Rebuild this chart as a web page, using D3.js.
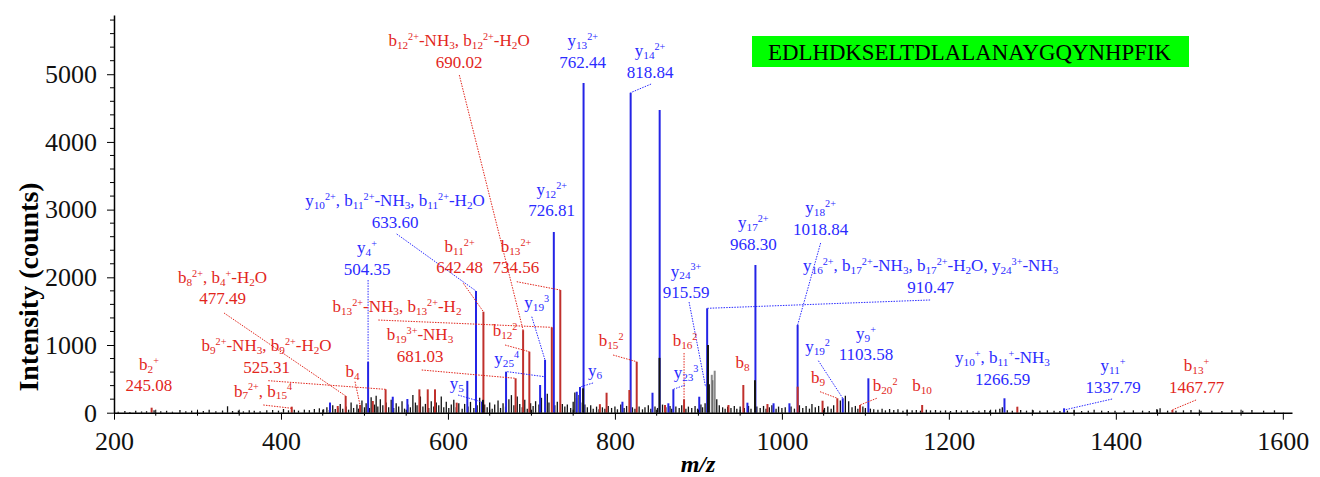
<!DOCTYPE html>
<html>
<head>
<meta charset="utf-8">
<script src="https://cdn.jsdelivr.net/npm/d3@7"></script>
<style>
body { margin: 0; background: #fff; }
svg { display: block; }
text { font-family: "Liberation Serif", "Times New Roman", serif; }
</style>
</head>
<body>
<div id="spectrum"></div>
<script>
// axis ticks
var xTicks = [200, 400, 600, 800, 1000, 1200, 1400, 1600];
var yTicks = [0, 1000, 2000, 3000, 4000, 5000];
var peptide = "EDLHDKSELTDLALANAYGQYNHPFIK";

// unannotated raw peaks [m/z, intensity]
var blackPeaks = [
  [205,15],[213,25],[219,12],[226,30],[233,18],[239,22],[248,35],[256,20],[263,28],[270,15],[279,40],[286,22],
  [293,30],[300,18],[307,25],[314,45],[322,20],[330,32],[336,95],[342,25],[349,30],[355,20],[362,38],[368,28],
  [375,22],[383,35],[390,40],[397,30],[403,55],[409,35],[416,42],[421,30],[428,45],[434,38],[440,55],[446,65],[451,50],
  [455,80],[458,40],[462,110],[465,55],[468,70],[471,130],[474,60],[478,90],[481,45],[484,150],[487,70],[491,120],
  [493,60],[497,180],[500,80],[502,140],[506,70],[508,230],[512,120],[514,250],[516,90],[519,200],[522,110],[526,150],
  [529,80],[532,190],[535,70],[538,140],[541,90],[545,170],[548,60],[552,120],[555,80],[558,260],[561,150],[563,110],
  [567,240],[570,90],[573,130],[577,70],[580,170],[583,90],[586,150],[589,110],[592,240],[595,80],[598,160],[601,70],
  [604,120],[607,190],[610,80],[613,140],[617,60],[620,130],[624,90],[627,160],[631,70],[635,110],[638,220],[644,120],
  [647,80],[650,150],[653,60],[656,120],[660,180],[663,70],[666,140],[669,90],[673,200],[676,260],[679,110],[683,240],
  [686,130],[689,80],[692,190],[695,60],[699,140],[702,100],[705,170],[709,120],[712,220],[719,280],[721,150],[728,110],
  [731,160],[737,130],[740,90],[743,120],[747,70],[750,160],[752,300],[754,220],[757,260],[759,150],[764,120],[767,80],
  [771,110],[774,60],[778,90],[781,50],[785,80],[788,60],[792,100],[796,70],[800,90],[803,50],[807,120],[811,70],
  [814,100],[821,80],[824,60],[829,90],[833,50],[836,80],[840,110],[843,60],[848,90],[851,70],[857,120],[861,80],
  [866,100],[868,60],[873,90],[877,70],[880,110],[885,60],[888,90],[892,70],[896,100],[899,60],[903,120],[905,80],
  [908,140],[913,420],[917,480],[922,200],[925,110],[929,80],[932,60],[935,90],[939,70],[943,100],[946,60],[950,90],
  [955,70],[960,100],[963,60],[970,90],[974,70],[978,100],[981,60],[985,80],[988,110],[993,60],[996,90],[1000,70],
  [1004,80],[1011,90],[1015,60],[1021,110],[1025,70],[1029,100],[1033,60],[1036,130],[1040,80],[1044,100],[1051,70],
  [1055,90],[1059,60],[1062,110],[1070,180],[1076,250],[1080,170],[1084,80],[1088,100],[1091,60],[1097,90],[1100,70],
  [1106,60],[1110,50],
  [1115,45],[1120,60],[1124,35],[1129,55],[1134,40],[1139,50],[1145,30],[1150,45],[1156,35],[1161,40],[1166,30],
  [1173,45],[1178,35],[1184,40],[1190,30],[1196,35],[1202,25],[1209,40],[1215,30],[1222,35],[1229,25],[1236,30],
  [1243,40],[1249,28],[1256,45],[1261,60],[1264,80],[1270,35],[1276,30],[1286,40],[1293,30],[1301,35],[1309,28],
  [1318,35],[1326,30],[1333,25],[1342,30],[1350,38],[1359,25],[1367,30],[1374,45],[1383,30],[1391,25],[1399,30],
  [1410,28],[1421,35],[1432,30],[1440,25],[1449,50],[1453,65],[1462,30],[1472,28],[1481,35],[1490,40],[1502,28],
  [1515,30],[1527,25],[1539,35],[1552,28],[1563,40],[1577,30],[1590,35]
];
var greyPeaks = [[916,560],[919.5,620]];

// y-type fragment peaks
var bluePeaks = [
  [458.7,150],[504.35,750],[533.9,236],[551.4,202],[623.2,470],[633.60,1798],[640.8,158],[669.6,606],
  [710.4,409],[716.3,780],[726.81,2669],[754.3,310],[758.2,380],[762.44,4870],[809,162],[818.84,4727],
  [845,295],[853.6,4471],[864,139],[870,346],[901,236],[910.47,1542],[958.7,148],[968.30,2182],[990,139],
  [1009,139],[1018.84,1295],[1072.9,213],[1103.58,508],[1266.59,213],[1338,65]
];
// b-type fragment peaks
var redPeaks = [
  [245.08,74],[412.9,89],[468,99],[477.49,247],[494.7,114],[510,173],[525.31,345],[565.8,345],[575.8,345],
  [584.5,345],[610.5,148],[642.48,1492],[681.03,508],[690.02,1220],[697.5,901],[724.4,1261],[734.56,1812],
  [782,126],[790,295],[817.3,335],[826.1,753],[860,114],[882.8,200],[936,114],[953.8,409],[982.7,128],
  [1018.9,384],[1048.7,177],[1066.4,213],[1093.6,114],[1168,114],[1282,89],[1467.77,40]
];
// dark lower parts on top of coloured peaks
var overlayPeaks = [[642.0,190],[761.9,360],[853.4,810],[911.5,1000],[967.8,480]];

// annotations: ion text, m/z text, series, anchor [m/z, intensity], leader [m/z, int, m/z, int]
var ionNames = [
  "b_{12}^{2+}-NH_{3}, b_{12}^{2+}-H_{2}O", "y_{13}^{2+}", "y_{14}^{2+}",
  "y_{10}^{2+}, b_{11}^{2+}-NH_{3}, b_{11}^{2+}-H_{2}O", "y_{4}^{+}", "b_{11}^{2+}", "b_{13}^{2+}",
  "b_{8}^{2+}, b_{4}^{+}-H_{2}O", "b_{13}^{2+}-NH_{3}, b_{13}^{2+}-H_{2}", "b_{19}^{3+}-NH_{3}",
  "b_{9}^{2+}-NH_{3}, b_{9}^{2+}-H_{2}O", "b_{2}^{+}", "b_{4}", "b_{7}^{2+}, b_{15}^{4}",
  "y_{12}^{2+}", "y_{17}^{2+}", "y_{18}^{2+}",
  "y_{16}^{2+}, b_{17}^{2+}-NH_{3}, b_{17}^{2+}-H_{2}O, y_{24}^{3+}-NH_{3}", "y_{24}^{3+}",
  "y_{19}^{3}", "b_{12}^{2}", "y_{25}^{4}", "y_{5}", "y_{6}", "b_{15}^{2}", "b_{16}^{2}", "y_{23}^{3}",
  "b_{8}", "y_{19}^{2}", "y_{9}^{+}", "b_{9}", "b_{20}^{2}", "b_{10}",
  "y_{10}^{+}, b_{11}^{+}-NH_{3}", "y_{11}^{+}", "b_{13}^{+}"
];
var ionValues = [
  "690.02", "762.44", "818.84", "633.60", "504.35", "642.48", "734.56", "477.49", "", "681.03",
  "525.31", "245.08", "", "", "726.81", "968.30", "1018.84", "910.47", "915.59",
  "", "", "", "", "", "", "", "", "", "", "1103.58", "", "", "", "1266.59", "1337.79", "1467.77"
];
var ionSeries = [
  "b","y","y","y","y","b","b","b","b","b","b","b","b","b","y","y","y","y","y",
  "y","b","y","y","y","b","b","y","b","y","y","b","b","b","y","y","b"
];
var ionAnchor = [
  [613.3,5416],[761.4,5416],[842.1,5269],[536.6,3053],[503.1,2359],[613.9,2374],[681.5,2374],
  [330,1916],[539,1487],[566.6,1073],[382.7,911],[241.9,631],[485.7,527],[378.5,239],
  [724.3,3216],[965.8,2728],[1046.4,2950],[1178.2,2093],[885.2,2012],
  [706.3,1547],[668.4,1133],[670.4,719],[610.5,350],[776.2,542],[795.4,985],[884,985],[885.2,513],
  [952.9,660],[1042.7,897],[1100.8,1089],[1043.3,440],[1123.6,321],[1167.9,321],
  [1264.3,734],[1396.7,616],[1496.7,616]
];
var ionLeader = [
  [613.6,4988,690.02,1220], null, [843.3,4855,818.7,4727],
  [538.6,2640,633.6,1798], [504.35,1960,504.35,750], [618.4,1911,642.48,1492], [682.4,1935,734.56,1812],
  [331.8,1473,477.49,247], [516.6,1369,724.4,1261], [568.6,631,681.03,508],
  [384.8,473,525.31,345], null, [488.7,458,494.7,114], [378.8,114,412.9,65],
  null, null, [1046.4,2507,1018.84,1295],
  [1177.5,1665,910.47,1542], [888.8,1635,908.6,380],
  [700.4,1418,716.3,778], [668.4,1000,697.5,901], [671,606,715.5,532], [612.1,261,640.8,158],
  [773.8,439,758.2,380], [797.8,852,826.1,753], [882.8,882,882.8,202], [884,409,870,346],
  null, [1043.7,768,1072.9,213], null, [1045.7,310,1066.4,213], [1113.6,213,1093.6,114], null,
  null, [1395.5,202,1338,40], [1496.1,188,1467.4,40]
];

var peakColor = {b: "#c0302c", y: "#2424e6"};
var textColor = {b: "#e2261c", y: "#2b2bff"};

var width = 1320, height = 477;
var svg = d3.select("#spectrum").append("svg")
    .attr("width", width)
    .attr("height", height);

var x = d3.scaleLinear().domain([200, 1611]).range([114, 1292]);
var y = d3.scaleLinear().domain([0, 5875]).range([412.7, 15]);

function drawPeaks(data, color, w) {
    svg.append("g").selectAll("line")
        .data(data)
        .join("line")
        .attr("x1", d => x(d[0]))
        .attr("x2", d => x(d[0]))
        .attr("y1", y(0))
        .attr("y2", d => y(d[1]))
        .attr("stroke", color)
        .attr("stroke-width", w);
}

drawPeaks(blackPeaks, "#111", 1.3);
drawPeaks(greyPeaks, "#8a8a8a", 2);
drawPeaks(bluePeaks, peakColor.y, 2);
drawPeaks(redPeaks, peakColor.b, 2);
drawPeaks(overlayPeaks, "#141414", 2);

// axes
var xAxis = svg.append("g")
    .attr("transform", "translate(0," + y(0) + ")")
    .call(d3.axisBottom(x).tickValues(xTicks).tickSize(7).tickSizeOuter(0).tickPadding(12).tickFormat(d3.format("d")));
xAxis.selectAll("text").style("font-size", "26px").attr("fill", "#111");

svg.append("g").selectAll("line")
    .data(d3.range(250, 1600, 50).filter(v => v % 200 != 0))
    .join("line")
    .attr("x1", d => x(d)).attr("x2", d => x(d))
    .attr("y1", y(0) - 3).attr("y2", y(0) + 3)
    .attr("stroke", "#000");

var yAxis = svg.append("g")
    .attr("transform", "translate(" + x(200) + ",0)")
    .call(d3.axisLeft(y).tickValues(yTicks).tickSize(7).tickSizeOuter(0).tickPadding(10).tickFormat(d3.format("d")));
yAxis.selectAll("text").style("font-size", "26px").attr("fill", "#111");

svg.append("g").selectAll("line")
    .data(d3.range(200, 5875, 200).filter(v => v % 1000 != 0))
    .join("line")
    .attr("x1", x(200) - 4).attr("x2", x(200))
    .attr("y1", d => y(d)).attr("y2", d => y(d))
    .attr("stroke", "#000");

svg.selectAll(".domain").attr("stroke-width", 1.5);

svg.append("text")
    .attr("transform", "translate(38," + 287 + ") rotate(-90)")
    .attr("text-anchor", "middle")
    .style("font-size", "28px")
    .style("font-weight", "bold")
    .text("Intensity (counts)");

svg.append("text")
    .attr("x", 698).attr("y", 472)
    .attr("text-anchor", "middle")
    .style("font-size", "24px")
    .style("font-weight", "bold")
    .style("font-style", "italic")
    .text("m/z");

// peptide box
svg.append("rect")
    .attr("x", 752).attr("y", 36).attr("width", 437).attr("height", 31)
    .attr("fill", "#00ff00");
svg.append("text")
    .attr("x", 768).attr("y", 60)
    .attr("textLength", 403).attr("lengthAdjust", "spacingAndGlyphs")
    .style("font-size", "23px")
    .attr("fill", "#000")
    .text(peptide);

// text with sub/superscripts
function richText(sel, str, fs) {
    var parts = str.split(/(_\{[^}]*\}|\^\{[^}]*\})/).filter(s => s.length);
    var cur = 0;
    parts.forEach(function(p) {
        var target = 0, size = fs, txt = p;
        if (p[0] == "_") { target = fs * 0.16; size = fs * 0.66; txt = p.slice(2, -1); }
        else if (p[0] == "^") { target = -fs * 0.36; size = fs * 0.6; txt = p.slice(2, -1); }
        sel.append("tspan")
            .attr("dy", target - cur)
            .style("font-size", size + "px")
            .text(txt);
        cur = target;
    });
}

var lg = svg.append("g");
ionNames.forEach(function(name, i) {
    var col = textColor[ionSeries[i]];
    var ld = ionLeader[i];
    if (ld) {
        lg.append("line")
            .attr("x1", x(ld[0])).attr("y1", y(ld[1]))
            .attr("x2", x(ld[2])).attr("y2", y(ld[3]))
            .attr("stroke", col)
            .attr("stroke-width", 1)
            .attr("stroke-dasharray", "1.5,1.2");
    }
    var a = ionAnchor[i];
    var t = lg.append("text")
        .attr("x", x(a[0])).attr("y", y(a[1]))
        .attr("text-anchor", "middle")
        .attr("fill", col)
        .style("font-size", "17px");
    richText(t, name, 17);
    if (ionValues[i]) {
        lg.append("text")
            .attr("x", x(a[0])).attr("y", y(a[1]) + 21.5)
            .attr("text-anchor", "middle")
            .attr("fill", col)
            .style("font-size", "17px")
            .text(ionValues[i]);
    }
});
</script>
</body>
</html>
